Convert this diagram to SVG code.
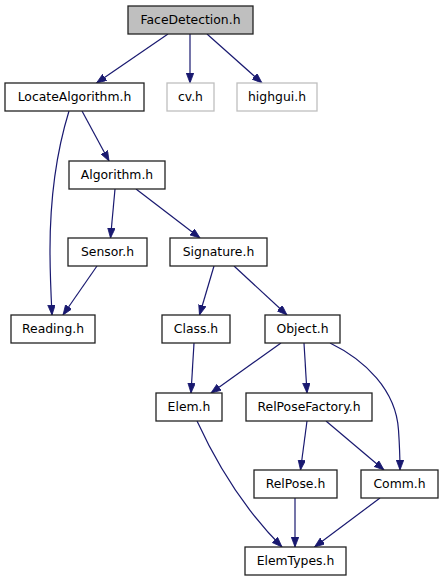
<svg xmlns="http://www.w3.org/2000/svg" width="444" height="581" viewBox="0 0 444 581">
<style>
.n rect{fill:#fff;stroke:#222;stroke-width:1.3}
.n.root rect{fill:#bfbfbf}
.n.ext rect{stroke:#bfbfbf}
.n text{font-family:"DejaVu Sans",sans-serif;font-size:12.4px;fill:#000;text-anchor:middle}
.e path{fill:none;stroke:#191970;stroke-width:1.2;marker-end:url(#ah)}
</style>
<defs>
<marker id="ah" markerUnits="userSpaceOnUse" markerWidth="11" markerHeight="8" refX="10" refY="3.75" orient="auto">
<path d="M0,0 L10,3.75 L0,7.5 z" fill="#191970" stroke="#191970" stroke-width="0.8"/>
</marker>
</defs>
<rect width="444" height="581" fill="#fff"/>
<g id="edges" class="e">
<path d="M168,34 L96.5,83"/>
<path d="M190,34 L190,83"/>
<path d="M207,34 L262,83"/>
<path d="M82,111 L109,161"/>
<path d="M69,111 C57,150 50,200 50,250 C50,275 51,295 52,315"/>
<path d="M115,189 L110.5,238"/>
<path d="M136,189 L200,238"/>
<path d="M97,266 L63,315"/>
<path d="M214,266 L199.5,315"/>
<path d="M234,266 L287,315"/>
<path d="M194,343 L191,393"/>
<path d="M281,343 L211,393"/>
<path d="M304,343 L307,393"/>
<path d="M330,343 C365,360 396,390 398.5,430 C399.5,445 400,458 400,470"/>
<path d="M197,421 C214,458 240,505 282,547"/>
<path d="M307,421 L300.5,470"/>
<path d="M326,421 L384,470"/>
<path d="M295,498 L295,547"/>
<path d="M380,498 L314.5,547"/>
</g>
<g id="FaceDetection" class="n root"><rect x="128" y="6" width="125" height="28"/><text x="190.5" y="24">FaceDetection.h</text></g>
<g id="LocateAlgorithm" class="n"><rect x="5" y="83" width="139" height="28"/><text x="74.5" y="101">LocateAlgorithm.h</text></g>
<g id="cv" class="n ext"><rect x="167" y="83" width="47" height="28"/><text x="190.5" y="101">cv.h</text></g>
<g id="highgui" class="n ext"><rect x="237" y="83" width="80" height="28"/><text x="277" y="101">highgui.h</text></g>
<g id="Algorithm" class="n"><rect x="69" y="161" width="96" height="28"/><text x="117" y="179">Algorithm.h</text></g>
<g id="Sensor" class="n"><rect x="68" y="238" width="79" height="28"/><text x="107.5" y="256">Sensor.h</text></g>
<g id="Signature" class="n"><rect x="170" y="238" width="97" height="28"/><text x="218.5" y="256">Signature.h</text></g>
<g id="Reading" class="n"><rect x="11" y="315" width="84" height="28"/><text x="53" y="333">Reading.h</text></g>
<g id="Class" class="n"><rect x="162" y="315" width="68" height="28"/><text x="196" y="333">Class.h</text></g>
<g id="Object" class="n"><rect x="265" y="315" width="75" height="28"/><text x="302.5" y="333">Object.h</text></g>
<g id="Elem" class="n"><rect x="156" y="393" width="66" height="28"/><text x="189" y="411">Elem.h</text></g>
<g id="RelPoseFactory" class="n"><rect x="246" y="393" width="126" height="28"/><text x="309" y="411">RelPoseFactory.h</text></g>
<g id="RelPose" class="n"><rect x="254" y="470" width="83" height="28"/><text x="295.5" y="488">RelPose.h</text></g>
<g id="Comm" class="n"><rect x="361" y="470" width="77" height="28"/><text x="399.5" y="488">Comm.h</text></g>
<g id="ElemTypes" class="n"><rect x="245" y="547" width="101" height="28"/><text x="295.5" y="565">ElemTypes.h</text></g>
</svg>
